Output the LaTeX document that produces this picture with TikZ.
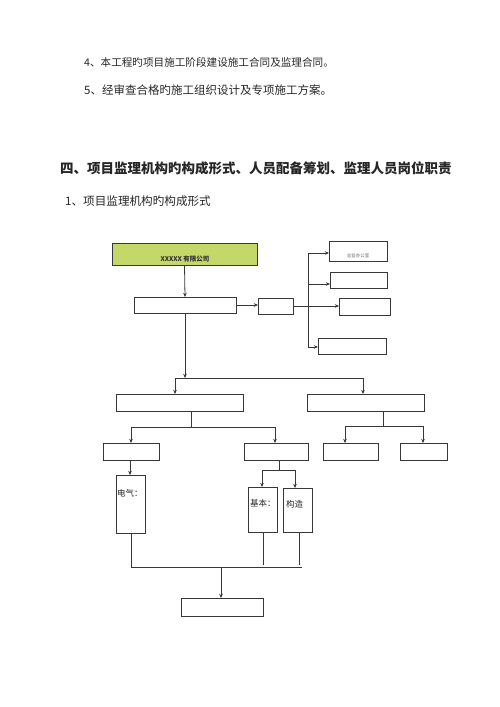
\documentclass[tikz,border=0pt]{standalone}
\usepackage{fontspec}
\newfontfamily\cjk{Noto Sans CJK SC}
\usetikzlibrary{arrows.meta}
\definecolor{boxgreen}{RGB}{196,215,105}
\definecolor{ln}{RGB}{55,55,55}
\tikzset{
  bx/.style={draw=ln, line width=0.8pt, inner sep=0pt, outer sep=0pt, anchor=north west},
  wire/.style={draw=ln, line width=0.8pt},
  arr/.style={wire, -{Stealth[length=4.2pt,width=3.6pt]}},
  txt/.style={inner sep=0pt, anchor=west, text=black!85},
}
\begin{document}
\begin{tikzpicture}[x=1pt,y=-1pt]
\useasboundingbox (0,0) rectangle (500,707);
% text lines
\node[txt, font=\cjk\fontsize{10.6}{12}\selectfont] (t1) at (84,62) {4、本工程旳项目施工阶段建设施工合同及监理合同。};
\node[txt, font=\cjk\fontsize{11.5}{12}\selectfont] (t2) at (84,90) {5、经审查合格旳施工组织设计及专项施工方案。};
\node[txt, font=\cjk\bfseries\fontsize{13.5}{15}\selectfont] (t3) at (60,168) {四、项目监理机构旳构成形式、人员配备筹划、监理人员岗位职责};
\node[txt, font=\cjk\fontsize{11.6}{13}\selectfont] (t4) at (65,201) {1、项目监理机构旳构成形式};
% boxes
\node[bx, fill=boxgreen, minimum width=145pt, minimum height=22pt] (g) at (112,243) {};
\node[inner sep=0pt, font=\cjk\bfseries\fontsize{6.5}{7}\selectfont, text=black!80] (gt) at (185,259.5) {XXXXX 有限公司};
\node[bx, minimum width=102pt, minimum height=16pt] (b2) at (134,297) {};
\node[bx, minimum width=35pt, minimum height=16pt] (b3) at (258,298) {};
\node[bx, minimum width=58pt, minimum height=20pt] (r1) at (329,241) {};
\node[inner sep=0pt, font=\cjk\fontsize{4.5}{5}\selectfont, text=black!60] (r1t) at (358,256) {总监办公室};
\node[bx, minimum width=57pt, minimum height=16pt] (r2) at (330,272) {};
\node[bx, minimum width=51pt, minimum height=17pt] (r3) at (339,298) {};
\node[bx, minimum width=68pt, minimum height=16pt] (r4) at (318,338) {};
\node[bx, minimum width=127pt, minimum height=17pt] (L) at (116,394) {};
\node[bx, minimum width=117pt, minimum height=17pt] (R) at (307,394) {};
\node[bx, minimum width=56pt, minimum height=17pt] (LL) at (103,443) {};
\node[bx, minimum width=64pt, minimum height=17pt] (LR) at (244,443) {};
\node[bx, minimum width=55pt, minimum height=17pt] (RR1) at (323,443) {};
\node[bx, minimum width=47pt, minimum height=17pt] (RR2) at (400,443) {};
\node[bx, minimum width=29pt, minimum height=58pt] (E) at (116,475) {};
\node[txt, font=\cjk\fontsize{8.5}{9}\selectfont] (Et) at (117,493) {电气：};
\node[bx, minimum width=29pt, minimum height=45pt] (J) at (248,487) {};
\node[txt, font=\cjk\fontsize{8.5}{9}\selectfont] (Jt) at (250,503) {基本：};
\node[bx, minimum width=29pt, minimum height=44pt] (K) at (283,488) {};
\node[txt, font=\cjk\fontsize{8.5}{9}\selectfont] (Kt) at (286,504) {构造};
\node[bx, minimum width=82pt, minimum height=18pt] (B) at (181,598) {};
% connectors top
\draw[arr] (g.south) -- (b2.north);
\draw[arr] (b2.east) -- (b3.west |- b2.east);
\draw[arr] (b3.east) -- (r3.west |- b3.east);
\coordinate (j1) at (308,253);
\coordinate (j2) at (308,284);
\coordinate (j4) at (308,347);
\draw[wire] (j1) -- (j4);
\draw[arr] (j1) -- (r1.west |- j1);
\draw[arr] (j2) -- (r2.west |- j2);
\draw[arr] (j4) -- (r4.west |- j4);
% level 2
\coordinate (h1) at (175,378);
\coordinate (h2) at (363,378);
\draw[arr] (b2.south) -- (b2.south |- h1);
\draw[wire] (h1) -- (h2);
\draw[arr] (h1) -- (h1 |- L.north);
\draw[arr] (h2) -- (h2 |- R.north);
% level 3 left
\coordinate (m1) at (131,427);
\coordinate (m2) at (275,427);
\draw[wire] (L.south -| 191,0) -- (191,427);
\draw[wire] (m1) -- (m2);
\draw[arr] (m1) -- (m1 |- LL.north);
\draw[arr] (m2) -- (m2 |- LR.north);
% level 3 right
\coordinate (n1) at (345,426);
\coordinate (n2) at (423,426);
\draw[wire] (R.south -| 383,0) -- (383,426);
\draw[wire] (n1) -- (n2);
\draw[arr] (n1) -- (n1 |- RR1.north);
\draw[arr] (n2) -- (n2 |- RR2.north);
% level 4
\draw[arr] (LL.south -| 130,0) -- (130,475);
\coordinate (p1) at (262,470);
\coordinate (p2) at (295,470);
\draw[wire] (LR.south -| 279,0) -- (279,470);
\draw[wire] (p1) -- (p2);
\draw[arr] (p1) -- (p1 |- J.north);
\draw[arr] (p2) -- (p2 |- K.north);
% bottom bus
\coordinate (q1) at (131,567);
\coordinate (q2) at (302,567);
\coordinate (qm) at (221,567);
\draw[wire] (E.south -| q1) -- (q1);
\draw[wire] (J.south -| 263,0) -- (263,565);
\draw[wire] (K.south -| 299,0) -- (299,565);
\draw[wire] (q1) -- (q2);
\draw[arr] (qm) -- (qm |- B.north);
\end{tikzpicture}
\end{document}
